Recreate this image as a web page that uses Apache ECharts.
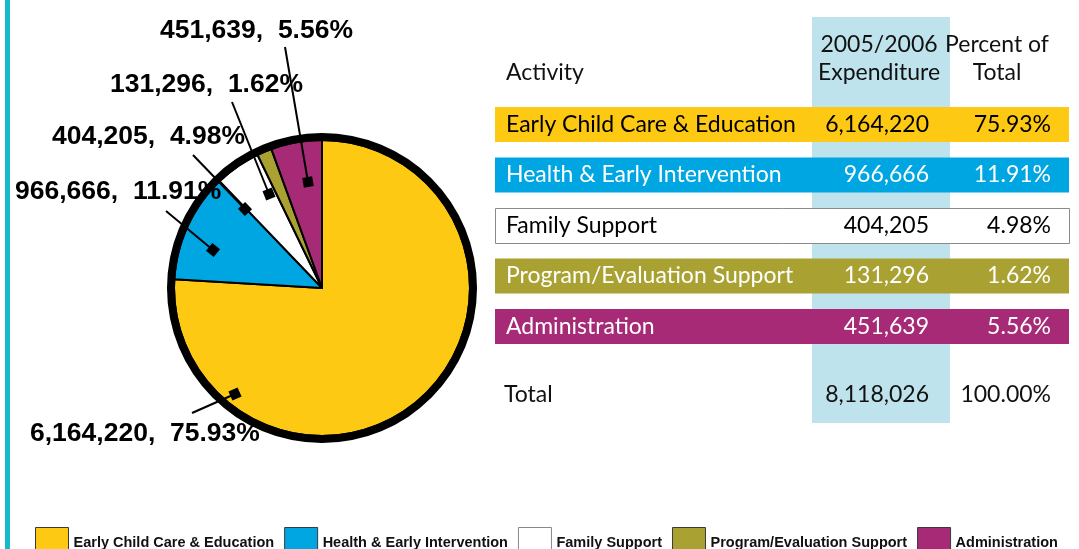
<!DOCTYPE html>
<html>
<head>
<meta charset="utf-8">
<title>2005/2006 Expenditure by Activity</title>
<script src="https://cdn.jsdelivr.net/npm/echarts@6/dist/echarts.min.js"></script>
<style>
  html, body { margin: 0; padding: 0; background: #fff; }
  #chart { width: 1079px; height: 549px; }
</style>
</head>
<body>
<div id="chart"></div>
<script>
// data
const categories = [
  'Early Child Care & Education',
  'Health & Early Intervention',
  'Family Support',
  'Program/Evaluation Support',
  'Administration'
]
const expenditure = [6164220, 966666, 404205, 131296, 451639]
const percents = [75.93, 11.91, 4.98, 1.62, 5.56]
const totalExpenditure = 8118026
const totalPercent = 100.00
const headers = ['Activity', '2005/2006\nExpenditure', 'Percent of\nTotal']

// styles
const sliceColors = ['#FDC913', '#00A6E2', '#FFFFFF', '#A9A232', '#A62A76']
const rowTextColors = ['#000', '#fff', '#000', '#fff', '#fff']
const bandColor = '#BEE3EC'
const edgeColor = '#14B9CE'
const labelFont = 'Liberation Sans'
const tableFont = 'Lato'

// where each pie label sits and where its leader line meets the slice
const labelSpots = [
  { x: 30, y: 434, lx: 192, ly: 413, mx: 235, my: 394 },
  { x: 15, y: 192, lx: 166, ly: 211, mx: 213, my: 250 },
  { x: 52, y: 137, lx: 193, ly: 155, mx: 245, my: 209 },
  { x: 110, y: 85, lx: 232, ly: 102, mx: 269, my: 194 },
  { x: 160, y: 31, lx: 285, ly: 47, mx: 308, my: 182 }
]

const fmt = v => v.toLocaleString('en-US')
const fmtPct = v => v.toFixed(2) + '%'

let myChart = echarts.init(document.getElementById('chart'))

// table on the right
let graphics = []
graphics.push({ type: 'rect', z: 1, shape: { x: 5, y: 0, width: 5, height: 549 }, style: { fill: edgeColor } })
graphics.push({ type: 'rect', z: 1, shape: { x: 812, y: 17, width: 138, height: 406 }, style: { fill: bandColor } })

const headStyle = { fontFamily: tableFont, fontSize: 23, fill: '#111', lineHeight: 28 }
graphics.push({ type: 'text', z: 5, x: 506, y: 73, style: Object.assign({ text: headers[0], align: 'left', verticalAlign: 'middle' }, headStyle) })
graphics.push({ type: 'text', z: 5, x: 879, y: 59, style: Object.assign({ text: headers[1], align: 'center', verticalAlign: 'middle' }, headStyle) })
graphics.push({ type: 'text', z: 5, x: 997, y: 59, style: Object.assign({ text: headers[2], align: 'center', verticalAlign: 'middle' }, headStyle) })

categories.forEach(function (name, i) {
  let top = 107 + i * 50.5
  let mid = top + 17.5
  let isWhite = sliceColors[i] === '#FFFFFF'
  graphics.push({
    type: 'rect', z: 3,
    shape: { x: isWhite ? 495.5 : 495, y: isWhite ? top + 0.5 : top, width: 574, height: 35 },
    style: { fill: sliceColors[i], stroke: isWhite ? '#8a8a8a' : null, lineWidth: 1 }
  })
  let txt = { fontFamily: tableFont, fontSize: 23, fill: rowTextColors[i], verticalAlign: 'middle' }
  graphics.push({ type: 'text', z: 5, x: 506, y: mid, style: Object.assign({ text: name, align: 'left' }, txt) })
  graphics.push({ type: 'text', z: 5, x: 929, y: mid, style: Object.assign({ text: fmt(expenditure[i]), align: 'right' }, txt) })
  graphics.push({ type: 'text', z: 5, x: 1051, y: mid, style: Object.assign({ text: fmtPct(percents[i]), align: 'right' }, txt) })
})
let totStyle = { fontFamily: tableFont, fontSize: 23, fill: '#111', verticalAlign: 'middle' }
graphics.push({ type: 'text', z: 5, x: 504, y: 395, style: Object.assign({ text: 'Total', align: 'left' }, totStyle) })
graphics.push({ type: 'text', z: 5, x: 929, y: 395, style: Object.assign({ text: fmt(totalExpenditure), align: 'right' }, totStyle) })
graphics.push({ type: 'text', z: 5, x: 1051, y: 395, style: Object.assign({ text: fmtPct(totalPercent), align: 'right' }, totStyle) })

// leader lines and the little square where each one ends
labelSpots.forEach(function (s) {
  let ang = Math.atan2(s.ly - s.my, s.lx - s.mx)
  graphics.push({
    type: 'line', z: 100,
    shape: { x1: s.lx, y1: s.ly, x2: s.mx, y2: s.my },
    style: { stroke: '#000', lineWidth: 2 }
  })
  graphics.push({
    type: 'rect', z: 101, x: s.mx, y: s.my, rotation: -ang,
    shape: { x: -5, y: -5, width: 10, height: 10 },
    style: { fill: '#000' }
  })
})

let option = {
  backgroundColor: '#fff',
  animation: false,
  color: sliceColors,
  legend: {
    left: 30,
    top: 522,
    itemWidth: 33,
    itemHeight: 30,
    itemGap: 10,
    icon: 'rect',
    selectedMode: false,
    itemStyle: { borderColor: '#3a3a3a', borderWidth: 1 },
    textStyle: { fontFamily: labelFont, fontWeight: 'bold', fontSize: 14.5, color: '#111' },
    data: categories.map(function (n, i) {
      return sliceColors[i] === '#FFFFFF'
        ? { name: n, itemStyle: { borderColor: '#888' } }
        : { name: n }
    })
  },
  graphic: graphics,
  series: [
    {
      type: 'pie',
      center: [322, 288],
      radius: 148,
      startAngle: 90,
      clockwise: true,
      itemStyle: { borderColor: '#000', borderWidth: 2 },
      label: {
        show: true,
        position: 'outside',
        fontFamily: labelFont,
        fontWeight: 'bold',
        fontSize: 26.5,
        color: '#000',
        width: 320,
        overflow: 'none',
        formatter: function (p) {
          return fmt(expenditure[p.dataIndex]) + ',  ' + fmtPct(percents[p.dataIndex])
        }
      },
      labelLine: { show: false },
      labelLayout: function (params) {
        let s = labelSpots[params.dataIndex]
        return { x: s.x, y: s.y, align: 'left', verticalAlign: 'middle' }
      },
      emphasis: { disabled: true },
      data: categories.map(function (n, i) {
        return { name: n, value: expenditure[i] }
      })
    },
    {
      // thick outline round the pie
      type: 'pie',
      center: [322, 288],
      radius: [147, 155],
      silent: true,
      label: { show: false },
      labelLine: { show: false },
      itemStyle: { color: '#000' },
      data: [{ value: 1, name: '' }]
    }
  ]
}
myChart.setOption(option)
</script>
</body>
</html>
